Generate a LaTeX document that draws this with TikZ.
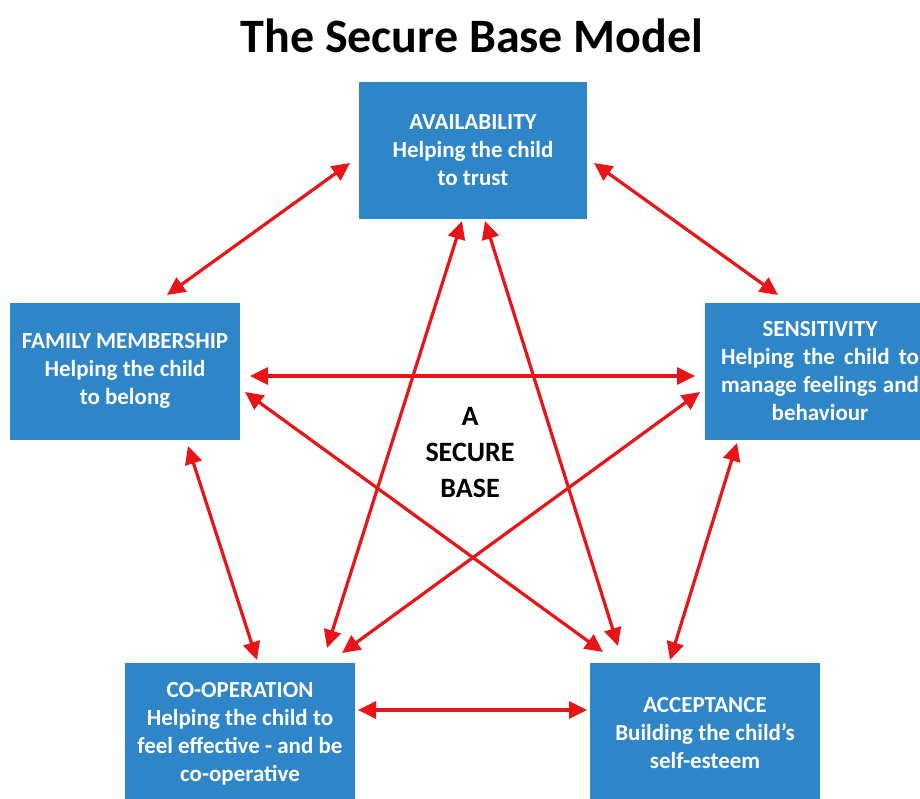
\documentclass[tikz,border=0pt]{standalone}
\usepackage{fontspec}
\setmainfont{Carlito}
\usetikzlibrary{arrows.meta}
\definecolor{boxblue}{RGB}{46,134,200}
\definecolor{arrred}{RGB}{232,20,24}
\tikzset{
  box/.style={fill=boxblue, text=white, font=\bfseries\fontsize{23}{28}\selectfont,
    align=center, minimum width=230, minimum height=137, inner sep=0},
  link/.style={draw=arrred, line width=3.2pt,
    {Triangle[length=18pt,width=17pt]}-{Triangle[length=18pt,width=17pt]}},
}
\begin{document}
\begin{tikzpicture}[x=1pt,y=-1pt]
\useasboundingbox (0,0) rectangle (920,798);
\clip (0,0) rectangle (920,798);
\node[font=\bfseries\fontsize{48}{56}\selectfont] (title) at (472,36) {The Secure Base Model};
\node[box, minimum width=228] (avail) at (473,150) {AVAILABILITY\\Helping the child\\to trust};
\node[box] (fam) at (125,371) {FAMILY MEMBERSHIP\\Helping the child\\to belong};
\node[box] (sens) at (820,371) {SENSITIVITY\\\makebox[198pt][s]{Helping the child to}\\\makebox[198pt][s]{manage feelings and}\\behaviour};
\node[box, minimum height=142] (coop) at (240,734) {CO-OPERATION\\Helping the child to\\feel effective - and be\\co-operative};
\node[box, minimum height=140] (acc) at (705,733) {ACCEPTANCE\\Building the child’s\\self-esteem};
\node[font=\bfseries\fontsize{28}{36}\selectfont, align=center] (base) at (470,453) {A\\SECURE\\BASE};
% connector end points
\coordinate (a1) at (350,163); \coordinate (f1) at (167,295);
\coordinate (a2) at (594,163); \coordinate (s1) at (778,295);
\coordinate (f2) at (250,376); \coordinate (s2) at (695,376);
\coordinate (f3) at (245,392); \coordinate (p1) at (603,652);
\coordinate (s3) at (700,392); \coordinate (c1) at (342,653);
\coordinate (a3) at (462,221); \coordinate (c2) at (327,648);
\coordinate (a4) at (485,221); \coordinate (p2) at (618,646);
\coordinate (f4) at (188,446); \coordinate (c3) at (257,660);
\coordinate (s4) at (737,443); \coordinate (p3) at (670,660);
\coordinate (c4) at (358,710); \coordinate (p4) at (587,710);
\draw[link] (a1) -- (f1);
\draw[link] (a2) -- (s1);
\draw[link] (f2) -- (s2);
\draw[link] (f3) -- (p1);
\draw[link] (s3) -- (c1);
\draw[link] (a3) -- (c2);
\draw[link] (a4) -- (p2);
\draw[link] (f4) -- (c3);
\draw[link] (s4) -- (p3);
\draw[link] (c4) -- (p4);
\end{tikzpicture}
\end{document}
